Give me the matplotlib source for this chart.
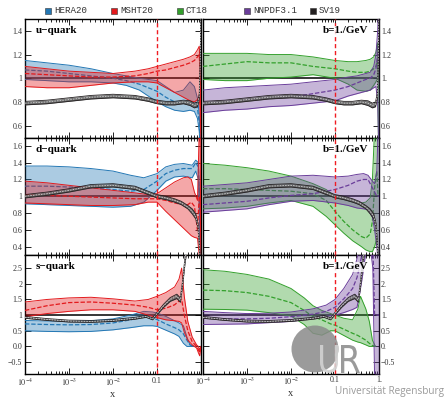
import numpy as np
import matplotlib
matplotlib.use('Agg')
import matplotlib.pyplot as plt
from matplotlib.patches import Circle, Rectangle, PathPatch
from matplotlib.textpath import TextPath
from matplotlib.font_manager import FontProperties
from matplotlib.transforms import Affine2D
from matplotlib.ticker import FixedLocator, FixedFormatter, LogLocator, NullFormatter

plt.rcParams['font.family'] = 'Liberation Serif'
plt.rcParams['mathtext.fontset'] = 'stix'

# colours of the five PDF sets
c_hera = '#2377b4'
c_msht = '#e3191c'
c_ct = '#33a02c'
c_nnpdf = '#6a3d9a'
c_sv = '#231f20'

legend_names = ['HERA20', 'MSHT20', 'CT18', 'NNPDF3.1', 'SV19']
legend_cols = [c_hera, c_msht, c_ct, c_nnpdf, c_sv]

# each band: [log10(x), lower, central, upper]
# ---- u-quark ----
u_hera = [[-4, -3.5, -3, -2.5, -2, -1.7, -1.4, -1.2, -1, -0.8, -0.6, -0.4, -0.25, -0.15, -0.08, -0.04, -0.01],
          [0.99, 0.98, 0.97, 0.97, 0.96, 0.94, 0.9, 0.85, 0.8, 0.76, 0.73, 0.72, 0.73, 0.72, 0.66, 0.55, 0.35],
          [1.07, 1.06, 1.04, 1.02, 1.0, 0.98, 0.95, 0.92, 0.89, 0.84, 0.8, 0.79, 0.78, 0.77, 0.75, 0.62, 0.42],
          [1.15, 1.13, 1.11, 1.08, 1.04, 1.02, 1.0, 0.99, 0.98, 0.93, 0.88, 0.9, 0.97, 0.93, 0.83, 0.7, 0.45]]
u_msht = [[-4, -3.5, -3, -2.5, -2, -1.5, -1.2, -1, -0.8, -0.6, -0.4, -0.25, -0.15, -0.08, -0.04, -0.02, -0.005],
          [0.93, 0.92, 0.92, 0.94, 0.96, 0.97, 0.97, 0.96, 0.92, 0.88, 0.84, 0.81, 0.8, 0.82, 0.85, 0.7, 0.5],
          [1.04, 1.03, 1.02, 1.01, 1.01, 1.02, 1.04, 1.06, 1.07, 1.09, 1.11, 1.13, 1.15, 1.18, 1.2, 1.05, 0.55],
          [1.10, 1.08, 1.06, 1.05, 1.04, 1.06, 1.08, 1.1, 1.12, 1.14, 1.16, 1.18, 1.2, 1.24, 1.27, 1.1, 0.6]]
u_ct = [[-4, -3.5, -3, -2.5, -2, -1.5, -1, -0.7, -0.5, -0.3, -0.2, -0.12, -0.07, -0.03, -0.01],
        [0.99, 0.98, 0.98, 1.0, 1.01, 1.03, 1.0, 0.95, 0.9, 0.89, 0.9, 0.94, 0.97, 1.0, 0.4],
        [1.1, 1.12, 1.14, 1.13, 1.13, 1.1, 1.08, 1.06, 1.05, 1.05, 1.06, 1.08, 1.1, 1.15, 0.9],
        [1.21, 1.21, 1.21, 1.2, 1.2, 1.18, 1.15, 1.14, 1.14, 1.15, 1.16, 1.18, 1.22, 1.3, 1.0]]
u_nnpdf = [[-4, -3.5, -3, -2.5, -2, -1.5, -1, -0.7, -0.5, -0.3, -0.2, -0.12, -0.07, -0.03, -0.01, 0],
           [0.71, 0.73, 0.74, 0.76, 0.77, 0.79, 0.81, 0.85, 0.87, 0.89, 0.9, 0.92, 0.93, 0.8, 0.45, 0.4],
           [0.79, 0.8, 0.82, 0.83, 0.84, 0.87, 0.9, 0.93, 0.96, 0.99, 1.0, 1.03, 1.08, 1.2, 1.3, 1.1],
           [0.9, 0.92, 0.93, 0.94, 0.95, 0.97, 0.99, 1.01, 1.02, 1.04, 1.05, 1.1, 1.2, 1.4, 1.6, 1.6]]
u_sv = [[-4, -3.5, -3, -2.5, -2, -1.5, -1.2, -1, -0.8, -0.6, -0.4, -0.25, -0.15, -0.08, -0.04, -0.02, 0],
        [0.775, 0.785, 0.805, 0.825, 0.835, 0.825, 0.805, 0.785, 0.775, 0.775, 0.785, 0.77, 0.75, 0.76, 0.83, 1.07, 1.55],
        [0.79, 0.8, 0.82, 0.84, 0.85, 0.84, 0.82, 0.8, 0.79, 0.79, 0.8, 0.79, 0.77, 0.78, 0.85, 1.1, 1.6],
        [0.805, 0.815, 0.835, 0.855, 0.865, 0.855, 0.835, 0.815, 0.805, 0.805, 0.815, 0.81, 0.79, 0.8, 0.87, 1.13, 1.65]]

# ---- d-quark ----
d_hera = [[-4, -3.5, -3, -2.5, -2, -1.6, -1.3, -1, -0.8, -0.6, -0.4, -0.3, -0.2, -0.12, -0.06, -0.03, -0.01],
          [0.91, 0.9, 0.89, 0.88, 0.87, 0.88, 0.93, 1.07, 1.18, 1.23, 1.24, 1.23, 1.22, 1.3, 1.2, 0.6, 0.2],
          [1.12, 1.12, 1.11, 1.1, 1.08, 1.06, 1.08, 1.18, 1.27, 1.31, 1.33, 1.33, 1.33, 1.4, 1.35, 0.9, 0.3],
          [1.36, 1.36, 1.35, 1.33, 1.3, 1.25, 1.22, 1.27, 1.35, 1.38, 1.39, 1.38, 1.37, 1.43, 1.4, 1.0, 0.3]]
d_msht = [[-4, -3.5, -3, -2.5, -2, -1.5, -1.2, -1, -0.8, -0.6, -0.4, -0.3, -0.22, -0.15, -0.08, -0.04, -0.02, -0.005],
          [0.92, 0.91, 0.9, 0.89, 0.89, 0.9, 0.93, 0.93, 0.82, 0.72, 0.62, 0.57, 0.53, 0.51, 0.5, 0.3, 0.2, 0.3],
          [1.02, 1.01, 1.0, 0.99, 0.98, 0.97, 0.97, 0.97, 0.95, 0.92, 0.9, 0.9, 0.93, 0.88, 0.6, 1.0, 1.0, 0.5],
          [1.18, 1.16, 1.13, 1.1, 1.07, 1.04, 1.02, 1.03, 1.1, 1.17, 1.22, 1.23, 1.2, 1.05, 0.95, 1.8, 1.8, 0.3]]
d_ct = [[-4, -3.5, -3, -2.5, -2, -1.5, -1.2, -1, -0.8, -0.6, -0.4, -0.3, -0.2, -0.15, -0.1, -0.05, -0.02],
        [0.85, 0.86, 0.88, 0.92, 0.95, 0.88, 0.76, 0.66, 0.56, 0.47, 0.4, 0.36, 0.34, 0.34, 0.4, 0.5, 0.3],
        [1.09, 1.09, 1.08, 1.07, 1.06, 1.03, 0.95, 0.82, 0.7, 0.6, 0.52, 0.5, 0.55, 0.7, 1.1, 1.3, 1.0],
        [1.39, 1.37, 1.34, 1.3, 1.24, 1.15, 1.08, 1.0, 0.96, 0.93, 0.92, 0.93, 0.98, 1.2, 1.8, 1.8, 1.8]]
d_nnpdf = [[-4, -3.5, -3, -2.5, -2, -1.5, -1, -0.7, -0.5, -0.35, -0.25, -0.15, -0.1, -0.05, -0.02, 0],
           [0.81, 0.83, 0.85, 0.9, 0.94, 0.95, 0.92, 0.89, 0.86, 0.85, 0.84, 0.75, 0.6, 0.4, 0.2, 0.2],
           [0.9, 0.92, 0.94, 0.98, 1.01, 1.03, 1.08, 1.13, 1.18, 1.2, 1.2, 1.1, 1.05, 1.0, 1.0, 1.0],
           [1.12, 1.14, 1.16, 1.2, 1.24, 1.25, 1.23, 1.24, 1.26, 1.27, 1.25, 1.18, 1.15, 1.3, 1.8, 1.8]]
d_sv = [[-4, -3.5, -3, -2.5, -2, -1.5, -1.2, -1, -0.8, -0.6, -0.45, -0.3, -0.2, -0.12, -0.07, -0.04, -0.02],
        [0.98, 1.01, 1.05, 1.1, 1.11, 1.08, 1.02, 0.98, 0.96, 0.93, 0.9, 0.85, 0.79, 0.73, 0.62, 0.42, 0.22],
        [1.0, 1.03, 1.07, 1.12, 1.13, 1.1, 1.04, 1.0, 0.98, 0.95, 0.92, 0.87, 0.82, 0.76, 0.65, 0.45, 0.25],
        [1.02, 1.05, 1.09, 1.14, 1.15, 1.12, 1.06, 1.02, 1.0, 0.97, 0.94, 0.89, 0.85, 0.79, 0.68, 0.48, 0.28]]

# ---- s-quark ----
s_hera = [[-4, -3.5, -3, -2.5, -2, -1.6, -1.3, -1.1, -1, -0.8, -0.6, -0.5, -0.4, -0.32, -0.25, -0.15],
          [0.5, 0.48, 0.47, 0.48, 0.53, 0.6, 0.66, 0.66, 0.64, 0.52, 0.4, 0.32, 0.1, 0.0, 0.0, 0.0],
          [0.72, 0.7, 0.69, 0.7, 0.75, 0.85, 0.95, 0.9, 0.86, 0.72, 0.6, 0.53, 0.4, 0.2, 0.05, 0.0],
          [0.83, 0.81, 0.8, 0.82, 0.88, 1.0, 1.12, 1.1, 1.07, 0.96, 0.82, 0.75, 0.66, 0.3, 0.05, 0.0]]
s_msht = [[-4, -3.5, -3, -2.5, -2, -1.5, -1.2, -1, -0.8, -0.6, -0.5, -0.44, -0.38, -0.3, -0.2, -0.1, -0.06, -0.03, 0],
          [0.95, 1.05, 1.12, 1.17, 1.17, 1.12, 1.0, 0.92, 0.85, 0.82, 0.8, 0.75, 0.45, 0.2, 0.05, -0.05, -0.2, -0.3, 0.0],
          [1.15, 1.3, 1.4, 1.42, 1.38, 1.32, 1.25, 1.17, 1.22, 1.33, 1.45, 1.5, 1.0, 0.5, 0.15, 0.0, -0.1, -0.2, 0.0],
          [1.42, 1.5, 1.55, 1.57, 1.52, 1.45, 1.5, 1.6, 1.72, 1.9, 2.15, 2.5, 1.6, 0.8, 0.3, 0.05, 0.0, -0.1, 0.0]]
s_ct = [[-4, -3.5, -3, -2.5, -2, -1.7, -1.5, -1.3, -1.1, -1, -0.8, -0.6, -0.48, -0.42, -0.3, -0.22, -0.15, -0.08],
        [1.19, 1.18, 1.16, 1.08, 0.97, 0.7, 0.42, 0.36, 0.5, 0.5, 0.35, 0.2, 0.14, 0.12, 0.05, 0.0, 0.0, 0.0],
        [1.8, 1.78, 1.72, 1.6, 1.4, 1.15, 0.95, 0.85, 0.72, 0.68, 0.55, 0.42, 0.35, 0.3, 0.2, 0.1, 0.03, 0.0],
        [2.45, 2.4, 2.3, 2.15, 1.85, 1.55, 1.3, 1.15, 1.05, 1.0, 0.9, 0.85, 1.2, 1.6, 1.2, 0.8, 0.2, 0.0]]
s_nnpdf = [[-4, -3.5, -3, -2.5, -2, -1.5, -1.2, -1, -0.8, -0.6, -0.5, -0.45, -0.38, -0.3, -0.2, -0.14, -0.1, -0.05, 0],
           [0.7, 0.71, 0.72, 0.76, 0.8, 0.9, 0.96, 1.0, 1.08, 1.18, 1.25, 1.6, 2.2, 3.0, 3.2, 2.5, -1.0, -1.0, -1.0],
           [0.9, 0.88, 0.88, 0.9, 0.95, 1.03, 1.12, 1.25, 1.52, 1.85, 2.2, 2.5, 3.0, 3.3, 3.3, 3.3, 1.0, 1.0, 1.0],
           [1.12, 1.08, 1.05, 1.06, 1.1, 1.2, 1.32, 1.5, 1.85, 2.3, 2.8, 3.2, 3.3, 3.3, 3.3, 3.3, 3.3, 3.3, 3.3]]
s_sv = [[-4, -3.5, -3, -2.5, -2, -1.5, -1.25, -1.1, -1, -0.85, -0.7, -0.55, -0.47, -0.42, -0.36, -0.3],
        [0.9, 0.83, 0.78, 0.77, 0.8, 0.87, 0.93, 0.85, 1.01, 1.25, 1.44, 1.53, 1.41, 1.92, 2.7, 3.2],
        [0.93, 0.86, 0.81, 0.8, 0.83, 0.9, 0.96, 0.88, 1.05, 1.3, 1.5, 1.6, 1.48, 2.0, 2.8, 3.3],
        [0.96, 0.89, 0.84, 0.83, 0.86, 0.93, 0.99, 0.91, 1.09, 1.35, 1.56, 1.67, 1.55, 2.08, 2.9, 3.4]]

quark_names = ['u\u2212quark', 'd\u2212quark', 's\u2212quark']
ylims = [(0.5, 1.5), (0.3, 1.7), (-0.88, 2.92)]
yticks = [[0.6, 0.8, 1.0, 1.2, 1.4],
          [0.4, 0.6, 0.8, 1.0, 1.2, 1.4, 1.6],
          [-0.5, 0.0, 0.5, 1.0, 1.5, 2.0, 2.5]]
ylab_left = [['0.6', '0.8', '1', '1.2', '1.4'],
             ['0.4', '0.6', '0.8', '1', '1.2', '1.4', '1.6'],
             ['\u22120.5', '0.0', '0.5', '1', '1.5', '2', '2.5']]
ylab_right = [['0.6', '0.8', '1.', '1.2', '1.4'],
              ['0.4', '0.6', '0.8', '1.', '1.2', '1.4', '1.6'],
              ['\u22120.5', '0.', '0.5', '1.', '1.5', '2.', '2.5']]
xticks = [1e-4, 1e-3, 1e-2, 1e-1, 1]
xlab_left = ['$10^{-4}$', '$10^{-3}$', '$10^{-2}$', '0.1', '']
xlab_right = ['$10^{-4}$', '$10^{-3}$', '$10^{-2}$', '0.1', '1.']

left_sets = [(u_hera, u_msht, u_sv), (d_hera, d_msht, d_sv), (s_hera, s_msht, s_sv)]
right_sets = [(u_ct, u_nnpdf, u_sv), (d_ct, d_nnpdf, d_sv), (s_ct, s_nnpdf, s_sv)]

W, H = 445, 398
fig = plt.figure(figsize=(W / 100, H / 100), dpi=100)


def add_ax(x0, y0, x1, y1):
    return fig.add_axes([x0 / W, 1 - y1 / H, (x1 - x0) / W, (y1 - y0) / H])


def band(ax, d, col, z):
    x = 10.0 ** np.array(d[0])
    ax.fill_between(x, d[1], d[3], color=col, alpha=0.38, lw=0, zorder=z)
    ax.plot(x, d[1], color=col, lw=0.7, zorder=z + 0.1)
    ax.plot(x, d[3], color=col, lw=0.7, zorder=z + 0.1)
    ax.plot(x, d[2], color=col, lw=0.9, ls=(0, (3.5, 1.5)), zorder=z + 0.2)


def sv_band(ax, d):
    x = 10.0 ** np.array(d[0])
    ax.fill_between(x, d[1], d[3], color='#5e5e5e', alpha=0.9, lw=0, zorder=6)
    ax.plot(x, d[1], color=c_sv, lw=0.6, zorder=6.1)
    ax.plot(x, d[3], color=c_sv, lw=0.6, zorder=6.1)
    ax.plot(x, d[2], color='#d8d8d8', lw=0.55, ls=(0, (2, 1.5)), zorder=6.2)


def style(ax, row, right):
    ax.set_xscale('log')
    ax.set_xlim(1e-4, 1)
    ax.set_ylim(*ylims[row])
    ax.xaxis.set_major_locator(FixedLocator(xticks))
    ax.xaxis.set_minor_locator(LogLocator(base=10, subs=np.arange(2, 10)))
    ax.xaxis.set_minor_formatter(NullFormatter())
    if row == 2:
        ax.xaxis.set_major_formatter(FixedFormatter(xlab_right if right else xlab_left))
        ax.set_xlabel('x', fontsize=7.5, labelpad=1, color='#333333')
    else:
        ax.xaxis.set_major_formatter(NullFormatter())
    ax.yaxis.set_major_locator(FixedLocator(yticks[row]))
    ax.yaxis.set_major_formatter(FixedFormatter(ylab_right[row] if right else ylab_left[row]))
    ax.tick_params(which='both', direction='in', top=True, right=True, width=0.6,
                   labelsize=5.8, labelcolor='#333333', pad=2)
    ax.tick_params(which='major', length=4)
    ax.tick_params(which='minor', length=2)
    if right:
        ax.tick_params(labelleft=False, labelright=True, pad=1.5)
    for sp in ax.spines.values():
        sp.set_linewidth(1.0)
    ax.axhline(1.0, color='black', lw=1.1, zorder=1.5)
    ax.axvline(0.1, color='#f01c22', lw=1.0, ls=(0, (3, 2)), zorder=9)


rows = [(19, 137.5), (137.5, 255), (255, 374)]
cols = [(25, 201), (203, 379)]

for r in range(3):
    y0, y1 = rows[r]
    axl = add_ax(cols[0][0], y0, cols[0][1], y1)
    hera, msht, sv = left_sets[r]
    band(axl, hera, c_hera, 3)
    band(axl, msht, c_msht, 4)
    sv_band(axl, sv)
    style(axl, r, False)
    axl.text(0.0625, 0.9, quark_names[r], transform=axl.transAxes, fontsize=8,
             fontweight='bold', va='center', ha='left', zorder=12)

    axr = add_ax(cols[1][0], y0, cols[1][1], y1)
    ct, nn, sv = right_sets[r]
    band(axr, ct, c_ct, 3)
    band(axr, nn, c_nnpdf, 4)
    sv_band(axr, sv)
    style(axr, r, True)
    axr.text(0.94, 0.9, 'b=1./GeV', transform=axr.transAxes, fontsize=8,
             fontweight='bold', va='center', ha='right', zorder=12,
             bbox=dict(facecolor='white', alpha=0.8, edgecolor='none', pad=0.6))

# overlay in pixel coordinates: legend and logo
ov = fig.add_axes([0, 0, 1, 1], zorder=20)
ov.set_xlim(0, W)
ov.set_ylim(H, 0)
ov.axis('off')

leg_x = [45, 111, 177, 244, 310]
for name, col, lx in zip(legend_names, legend_cols, leg_x):
    ov.add_patch(Rectangle((lx, 7.5), 6, 6, facecolor=col, edgecolor='#333333', lw=0.4))
    ov.text(lx + 9, 10.5, name, family='Liberation Mono', fontsize=6.6,
            color='#333333', va='center', ha='left')

ov.add_patch(Circle((315, 349), 23.5, facecolor='#8a8a8a', edgecolor='none', alpha=0.85))


def glyphs(s, x0, x1, ytop, ybot, col, family='DejaVu Sans'):
    tp = TextPath((0, 0), s, size=1, prop=FontProperties(family=family))
    bb = tp.get_extents()
    tr = Affine2D().translate(-bb.x0, -bb.y0).scale((x1 - x0) / bb.width,
                                                     -(ybot - ytop) / bb.height).translate(x0, ybot)
    ov.add_patch(PathPatch(tr.transform_path(tp), facecolor=col, edgecolor='none', alpha=0.9))


glyphs('U', 320, 338, 345, 373, '#d2d2d2')
glyphs('R', 341, 360, 345, 373, '#8f8f8f')
ov.text(444, 391.5, 'Universit\u00e4t Regensburg', family='Open Sans', fontsize=7.2,
        color='#9a9a9a', ha='right', va='center')

fig.savefig('out.png', dpi=100)
